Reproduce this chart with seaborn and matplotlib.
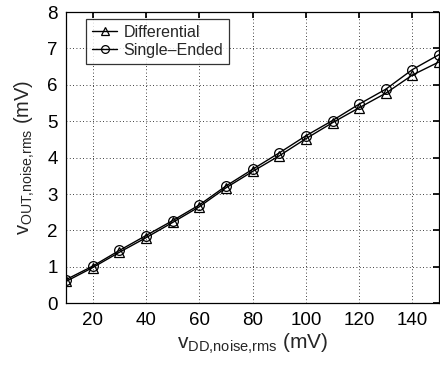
import matplotlib
matplotlib.use("Agg")
import matplotlib.pyplot as plt
import seaborn as sns
import pandas as pd

vdd = [10, 20, 30, 40, 50, 60, 70, 80, 90, 100, 110, 120, 130, 140, 150]
differential = [0.60, 0.98, 1.40, 1.80, 2.22, 2.65, 3.17, 3.62, 4.05, 4.52, 4.96, 5.37, 5.77, 6.27, 6.63]
single_ended = [0.65, 1.02, 1.45, 1.86, 2.27, 2.70, 3.22, 3.68, 4.13, 4.60, 5.02, 5.47, 5.88, 6.42, 6.83]
series_names = ["Differential", "Single\u2013Ended"]
xticks = [20, 40, 60, 80, 100, 120, 140]
yticks = [0, 1, 2, 3, 4, 5, 6, 7, 8]

df = pd.DataFrame({
    "x": vdd + vdd,
    "y": differential + single_ended,
    "series": [series_names[0]] * len(vdd) + [series_names[1]] * len(vdd),
})

sns.set_theme(style="white")
plt.rcParams["font.family"] = ["Liberation Sans", "DejaVu Sans"]
plt.rcParams["mathtext.fontset"] = "custom"
plt.rcParams["mathtext.rm"] = "Liberation Sans"
plt.rcParams["mathtext.it"] = "Liberation Sans"

fig = plt.figure(figsize=(4.4, 3.67), dpi=100)
ax = fig.add_axes([0.15, 0.1736, 0.848, 0.7937])

sns.lineplot(data=df, x="x", y="y", style="series", hue="series",
             palette={series_names[0]: "black", series_names[1]: "black"},
             markers={series_names[0]: "^", series_names[1]: "o"},
             dashes=False, ax=ax, linewidth=1.0, markersize=7,
             markerfacecolor="none", markeredgecolor="black", markeredgewidth=0.9)

ax.set_xlim(10, 150)
ax.set_ylim(0, 8)
ax.set_xticks(xticks)
ax.set_yticks(yticks)
ax.grid(True, color="black", linestyle=(0, (1, 3)), linewidth=0.6)
ax.tick_params(direction="in", length=4, labelsize=13.5, top=True, right=True,
               colors="black", pad=6)
for s in ax.spines.values():
    s.set_color("black")
    s.set_linewidth(0.9)
ax.set_xlabel(r"$\mathregular{v_{DD{,}noise{,}rms}}$ (mV)", fontsize=15, labelpad=2)
ax.set_ylabel(r"$\mathregular{v_{OUT{,}noise{,}rms}}$ (mV)", fontsize=14.5, labelpad=7)

leg = ax.legend(loc="upper left", bbox_to_anchor=(0.054, 0.975), borderaxespad=0,
                fontsize=11.5, frameon=True, fancybox=False, edgecolor="black",
                markerscale=0.8, handlelength=1.6, borderpad=0.35, labelspacing=0.2,
                handletextpad=0.4)
leg.get_frame().set_linewidth(0.9)
for h in leg.legend_handles:
    h.set_markerfacecolor("none")
    h.set_markeredgecolor("black")
    h.set_color("black")

fig.savefig("out.png", dpi=100)
